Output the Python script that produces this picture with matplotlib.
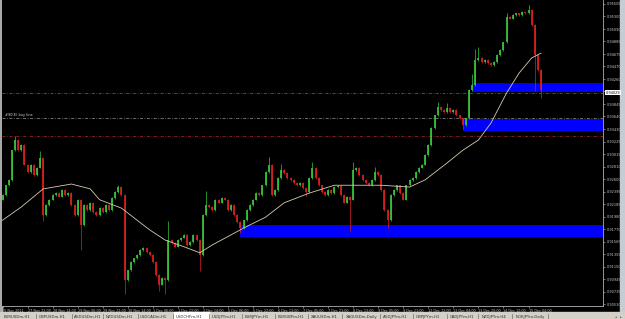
import matplotlib
matplotlib.use("Agg")
import matplotlib.pyplot as plt
from matplotlib.patches import Rectangle
import matplotlib.transforms as mtransforms

# ---------------- data ----------------
title = "USD/CHF 1Hour"
closes = [
    0.9234, 0.9250, 0.9259, 0.9308, 0.9325, 0.9308, 0.9317, 0.9284, 0.9272, 0.9284,
    0.9267, 0.9279, 0.9295, 0.9201, 0.9217, 0.9226, 0.9234, 0.9237, 0.9231, 0.9242,
    0.9234, 0.9237, 0.9217, 0.9201, 0.9226, 0.9184, 0.9217, 0.9209, 0.9221, 0.9206,
    0.9201, 0.9212, 0.9206, 0.9217, 0.9209, 0.9229, 0.9239, 0.9247, 0.9234, 0.9093,
    0.9109, 0.9123, 0.9129, 0.9134, 0.9143, 0.9146, 0.9139, 0.9134, 0.9123, 0.9101,
    0.9085, 0.9096, 0.9093, 0.9159, 0.9154, 0.9148, 0.9159, 0.9163, 0.9168, 0.9151,
    0.9156, 0.9168, 0.9159, 0.9134, 0.9201, 0.9217, 0.9214, 0.9209, 0.9226, 0.9221,
    0.9229, 0.9226, 0.9209, 0.9217, 0.9201, 0.9189, 0.9179, 0.9192, 0.9209, 0.9217,
    0.9226, 0.9237, 0.9234, 0.9250, 0.9272, 0.9284, 0.9234, 0.9242, 0.9262, 0.9275,
    0.9270, 0.9262, 0.9259, 0.9254, 0.9250, 0.9254, 0.9245, 0.9239, 0.9262, 0.9279,
    0.9262, 0.9250, 0.9239, 0.9234, 0.9242, 0.9237, 0.9247, 0.9249, 0.9234, 0.9221,
    0.9231, 0.9226, 0.9275, 0.9279, 0.9267, 0.9259, 0.9254, 0.9250, 0.9259, 0.9272,
    0.9267, 0.9242, 0.9209, 0.9192, 0.9234, 0.9242, 0.9250, 0.9237, 0.9226, 0.9250,
    0.9259, 0.9262, 0.9272, 0.9279, 0.9284, 0.9300, 0.9317, 0.9345, 0.9366, 0.9380,
    0.9375, 0.9371, 0.9378, 0.9371, 0.9375, 0.9366, 0.9361, 0.9350, 0.9361, 0.9408,
    0.9416, 0.9458, 0.9461, 0.9454, 0.9458, 0.9453, 0.9449, 0.9454, 0.9466, 0.9474,
    0.9487, 0.9529, 0.9526, 0.9532, 0.9535, 0.9532, 0.9537, 0.9535, 0.9541, 0.9516,
    0.9466, 0.9441, 0.9408,
]
first_open = 0.9226
# notable wick extremes (bar index -> price)
wick_highs = {4: 0.9330, 12: 0.9305, 37: 0.9250, 53: 0.9189, 65: 0.9239, 85: 0.9295,
              89: 0.9284, 99: 0.9287, 112: 0.9287, 119: 0.9279, 139: 0.9386,
              142: 0.9385, 150: 0.9433, 151: 0.9474, 152: 0.9478, 161: 0.9535, 168: 0.9547}
wick_lows = {13: 0.9192, 25: 0.9144, 39: 0.9071, 50: 0.9076, 52: 0.9071, 63: 0.9109,
             76: 0.9172, 97: 0.9234, 111: 0.9176, 123: 0.9181, 147: 0.9345,
             170: 0.9408, 172: 0.9396}

ma_idx = [0, 6, 13, 22, 28, 31, 38, 47, 52, 58, 63, 67, 77, 84, 90, 98, 106, 121,
          130, 135, 142, 147, 152, 156, 161, 165, 169, 172]
ma_val = [0.9192, 0.9214, 0.9244, 0.9252, 0.9244, 0.9226, 0.9212, 0.9176, 0.9159,
          0.9148, 0.9138, 0.9151, 0.9179, 0.9197, 0.9221, 0.9237, 0.9250, 0.9250,
          0.9247, 0.9259, 0.9287, 0.9308, 0.9325, 0.9353, 0.9403, 0.9436, 0.9461, 0.9469]

hlines_price = [0.9403, 0.9362, 0.9332]
hlines_color = ["#9a4a4a", "#8a8a8a", "#a02a2a"]
buy_line_label = "#90(E) buy line"

zone_start = [150, 147, 76]
zone_top = [0.9419, 0.9360, 0.9184]
zone_bottom = [0.9404, 0.9340, 0.9164]

price_ticks = [0.95505, 0.95300, 0.95090, 0.94885, 0.94675, 0.94470, 0.94260, 0.94055,
               0.93845, 0.93640, 0.93430, 0.93225, 0.93015, 0.92810, 0.92600, 0.92395,
               0.92185, 0.91980, 0.91770, 0.91565, 0.91355, 0.91150, 0.90945, 0.90735,
               0.90530]
bid_label = "0.94029"

date_labels = ["25 Nov 2011", "27 Nov 22:00", "28 Nov 14:00", "29 Nov 06:00", "29 Nov 22:00",
               "30 Nov 14:00", "1 Dec 06:00", "1 Dec 22:00", "2 Dec 14:00", "5 Dec 06:00",
               "5 Dec 22:00", "6 Dec 13:00", "7 Dec 05:00", "7 Dec 21:00", "8 Dec 13:00",
               "9 Dec 05:00", "9 Dec 21:00", "12 Dec 12:00", "13 Dec 04:00", "13 Dec 20:00",
               "14 Dec 12:00", "15 Dec 04:00"]
date_step = 8

tabs = ["EURUSDm,H1", "GBPUSDm,H1", "AUDUSDm,H1", "NZDUSDm,H1", "USDCADm,H1", "USDCHFm,H1",
        "USDJPYm,H1", "EURJPYm,H1", "EURGBPm,H1", "XAUUSDm,H1", "XAGUSDm,Daily", "AUDJPYm,H1",
        "GBPJPYm,H1", "CADJPYm,H1", "NZDJPYm,H4", "NOKJPYm,Daily"]
active_tab = 5

# ---------------- figure ----------------
W, H = 625, 319
fig = plt.figure(figsize=(W / 100, H / 100), dpi=100, facecolor="black")

bg = fig.add_axes([0, 0, 1, 1], zorder=0)
bg.set_xlim(0, W)
bg.set_ylim(H, 0)
bg.axis("off")
bg.add_patch(Rectangle((0, 0), 1.6, 312, color="#a8a8a8"))
bg.add_patch(Rectangle((620, 0), 5, 312, color="#c4ccd4"))
bg.add_patch(Rectangle((0, 312), W, 7, color="#d4d0c8"))
bg.text(206, 15, title, color="white", fontsize=3.8, ha="center", va="center")

# tabs
tab_x = [4, 39, 74, 106, 140, 176, 212, 245, 278, 311, 346, 383, 416, 450, 482, 516]
tab_w = [32, 33, 29, 32, 33, 33, 30, 30, 30, 31, 34, 30, 31, 28, 30, 32]
for k, (name, tx) in enumerate(zip(tabs, tab_x)):
    if k == active_tab:
        bg.add_patch(Rectangle((tx - 2, 311.5), tab_w[k] + 2, 8, color="white"))
    bg.text(tx, 316.8, name, color="#303030", fontsize=2.75, ha="left", va="center")
    sx = tx + tab_w[k]
    bg.plot([sx, sx], [313.5, 319], color="#707070", lw=0.5)
bg.text(616, 316.8, "\u25c2", color="#404040", fontsize=2.5, ha="center", va="center")
bg.text(621, 316.8, "\u25b8", color="#404040", fontsize=2.5, ha="center", va="center")

# main chart axes
L, R, T, B = 2, 603, 0, 306
ax = fig.add_axes([L / W, 1 - B / H, (R - L) / W, (B - T) / H], zorder=1)
ax.set_facecolor("black")
px_per_bar = 3.131
ax.set_xlim(-0.5 / px_per_bar, -0.5 / px_per_bar + (R - L) / px_per_bar)
ax.set_ylim(0.90498, 0.95571)
for s in ["left", "top"]:
    ax.spines[s].set_visible(False)
for s in ["bottom", "right"]:
    ax.spines[s].set_color("#b0b0b0")
    ax.spines[s].set_linewidth(0.6)

# zones
x_right = ax.get_xlim()[1]
for xs, tp, bt in zip(zone_start, zone_top, zone_bottom):
    ax.add_patch(Rectangle((xs, bt), x_right - xs, tp - bt, color="#0000ff", zorder=2, lw=0))

# horizontal lines
for p, c in zip(hlines_price, hlines_color):
    ax.axhline(p, color=c, lw=0.55, ls=(0, (4, 2, 1, 2)), zorder=1.5)
ax.text(0.8, hlines_price[1] + 0.00012, buy_line_label, color="#d0d0d0", fontsize=2.5,
        ha="left", va="bottom", zorder=3)

# candles
opens = [first_open] + closes[:-1]
bull, bear = "#39c639", "#dd2020"
for i, (o, c) in enumerate(zip(opens, closes)):
    col = bull if c >= o else bear
    hi = max(o, c, wick_highs.get(i, max(o, c))) + 0.00012
    lo = min(o, c, wick_lows.get(i, min(o, c))) - 0.00012
    ax.plot([i, i], [lo, hi], color=col, lw=0.5, zorder=3, solid_capstyle="butt")
    b0, b1 = min(o, c), max(o, c)
    if b1 - b0 < 0.00008:
        b1 = b0 + 0.00008
    ax.plot([i, i], [b0, b1], color=col, lw=1.25, zorder=3.2, solid_capstyle="butt")

# moving average
ax.plot(ma_idx, ma_val, color="#d8cbb0", lw=0.6, zorder=3.5)

# price axis
ax.yaxis.tick_right()
ax.set_yticks(price_ticks)
ax.set_yticklabels([f"{v:.5f}" for v in price_ticks])
ax.tick_params(axis="y", colors="#c8c8c8", labelsize=2.5, length=1.5, width=0.4, pad=1.2)
ax.text(1.004, (hlines_price[0] - 0.90498) / (0.95571 - 0.90498), bid_label,
        transform=ax.transAxes, fontsize=2.5, color="black", ha="left", va="center",
        bbox=dict(boxstyle="square,pad=0.15", fc="white", ec="none"), clip_on=False, zorder=5)

# date axis
ticks_x = [k * date_step for k in range(len(date_labels))]
ax.set_xticks(ticks_x)
ax.set_xticklabels(date_labels)
ax.tick_params(axis="x", colors="#c8c8c8", labelsize=2.4, length=1.5, width=0.4, pad=0.8)
for lab in ax.get_xticklabels():
    lab.set_ha("left")

fig.savefig("out.png", dpi=100, facecolor="black")
